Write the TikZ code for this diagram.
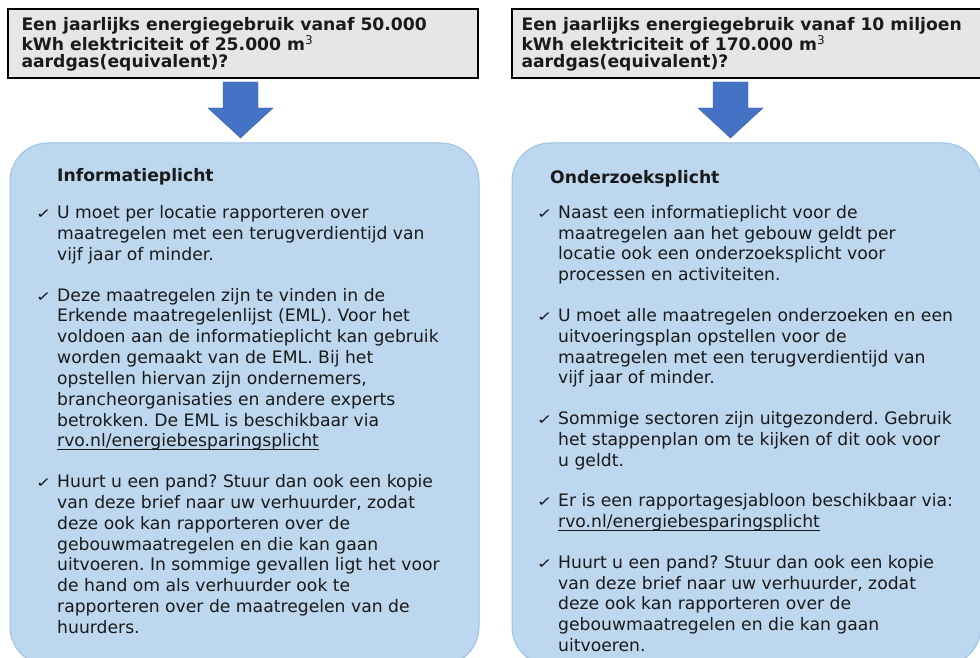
\documentclass[tikz,border=0pt]{standalone}
\usepackage{fontspec}
\usepackage{graphicx}
\setmainfont{DejaVu Sans}
\usetikzlibrary{positioning}

\definecolor{vakblauw}{HTML}{BDD7EE}
\definecolor{randblauw}{HTML}{9DC3E6}
\definecolor{pijlblauw}{HTML}{4472C4}
\definecolor{vraaggrijs}{HTML}{E7E6E6}
\definecolor{tekst}{HTML}{1A1A1A}

\newcommand\vink{\llap{\scalebox{1}[0.72]{\fontsize{19}{19}\selectfont ✓}\hspace{5.5pt}}}
\newcommand\link[1]{\setbox0\hbox{#1}\rlap{\rule[-2.6pt]{\wd0}{0.7pt}}\box0}

\tikzset{
  vraag/.style={draw=black, line width=1.4pt, fill=vraaggrijs, minimum width=470pt, minimum height=69pt, inner sep=0pt},
  vraagtekst/.style={anchor=west, align=left, inner sep=0pt, font=\frenchspacing\bfseries\fontsize{17.2}{17.3}\selectfont, text=tekst},
  vak/.style={draw=randblauw, line width=1pt, fill=vakblauw, rounded corners=38pt, minimum width=469pt, minimum height=522pt, inner sep=0pt},
  kop/.style={anchor=base west, inner sep=0pt, font=\bfseries\fontsize{17.2}{20.85}\selectfont, text=tekst},
  punt/.style={anchor=north west, align=left, inner sep=0pt, font=\frenchspacing\fontsize{17.2}{20.85}\selectfont, text=tekst,
    execute at begin node=\strut, execute at end node=\strut}
}

\begin{document}
\begin{tikzpicture}[x=1pt, y=-1pt]
  \useasboundingbox (0,0) rectangle (980,658);
  \clip (0,0) rectangle (980,658);

  % Define boxes
  \node[vraag] (vraag1) at (243,43.5) {};
  \node[vraag] (vraag2) at (747,43.5) {};
  \node[vak] (info) at (244.5,404) {};
  \node[vak] (onderzoek) at (746.5,404) {};

  % Questions
  \node[vraagtekst, right=14pt of vraag1.west, yshift=-1pt] (v1) {Een jaarlijks energiegebruik vanaf 50.000\\kWh elektriciteit of 25.000 m\textsuperscript{\mdseries 3}\\aardgas(equivalent)?};
  \node[vraagtekst, right=10pt of vraag2.west, yshift=-1pt] (v2) {Een jaarlijks energiegebruik vanaf 10 miljoen\\kWh elektriciteit of 170.000 m\textsuperscript{\mdseries 3}\\aardgas(equivalent)?};

  % Block arrows
  \foreach \cx in {240.5,730.5}
    \draw[fill=pijlblauw, draw=pijlblauw!85!black, line width=0.4pt]
      (\cx-17.5,82) -- (\cx+17.5,82) -- (\cx+17.5,108) -- (\cx+32.5,108)
      -- (\cx,138) -- (\cx-32.5,108) -- (\cx-17.5,108) -- cycle;

  % Informatieplicht
  \node[kop] (kop1) at (57,182) {Informatieplicht};
  \node[punt] (i1) at (57,205.5) {\vink U moet per locatie rapporteren over\\maatregelen met een terugverdientijd van\\vijf jaar of minder.};
  \node[punt, below right=20.85pt and 0pt of i1.south west] (i2) {\vink Deze maatregelen zijn te vinden in de\\Erkende maatregelenlijst (EML). Voor het\\voldoen aan de informatieplicht kan gebruik\\worden gemaakt van de EML. Bij het\\opstellen hiervan zijn ondernemers,\\brancheorganisaties en andere experts\\betrokken. De EML is beschikbaar via\\\link{rvo.nl/energiebesparingsplicht}};
  \node[punt, below right=20.85pt and 0pt of i2.south west] (i3) {\vink Huurt u een pand? Stuur dan ook een kopie\\van deze brief naar uw verhuurder, zodat\\deze ook kan rapporteren over de\\gebouwmaatregelen en die kan gaan\\uitvoeren. In sommige gevallen ligt het voor\\de hand om als verhuurder ook te\\rapporteren over de maatregelen van de\\huurders.};

  % Onderzoeksplicht
  \node[kop] (kop2) at (550,183) {Onderzoeksplicht};
  \node[punt] (o1) at (558,205) {\vink Naast een informatieplicht voor de\\maatregelen aan het gebouw geldt per\\locatie ook een onderzoeksplicht voor\\processen en activiteiten.};
  \node[punt, below right=20.85pt and 0pt of o1.south west] (o2) {\vink U moet alle maatregelen onderzoeken en een\\uitvoeringsplan opstellen voor de\\maatregelen met een terugverdientijd van\\vijf jaar of minder.};
  \node[punt, below right=20.85pt and 0pt of o2.south west] (o3) {\vink Sommige sectoren zijn uitgezonderd. Gebruik\\het stappenplan om te kijken of dit ook voor\\u geldt.};
  \node[punt, below right=20.85pt and 0pt of o3.south west] (o4) {\vink Er is een rapportagesjabloon beschikbaar via:\\\link{rvo.nl/energiebesparingsplicht}};
  \node[punt, below right=20.85pt and 0pt of o4.south west] (o5) {\vink Huurt u een pand? Stuur dan ook een kopie\\van deze brief naar uw verhuurder, zodat\\deze ook kan rapporteren over de\\gebouwmaatregelen en die kan gaan\\uitvoeren.};
\end{tikzpicture}
\end{document}
